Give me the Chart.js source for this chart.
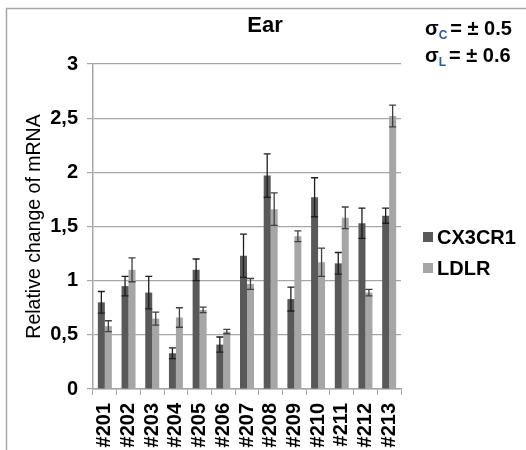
<!DOCTYPE html>
<html lang="en">
<head>
    <meta charset="UTF-8">
    <title>Ear - Relative change of mRNA</title>
    <script src="https://cdn.jsdelivr.net/npm/chart.js"></script>
    <style>
        html, body {
            margin: 0;
            padding: 0;
            background-color: white;
        }
        .chart-container {
            position: relative;
            width: 526px;
            height: 450px;
        }
    </style>
</head>
<body>
    <div class="chart-container">
        <canvas id="earChart"></canvas>
    </div>

    <script>
        // Data
        const samples = ['#201', '#202', '#203', '#204', '#205', '#206', '#207', '#208', '#209', '#210', '#211', '#212', '#213'];

        const cx3cr1 = [0.80, 0.95, 0.89, 0.33, 1.10, 0.41, 1.23, 1.97, 0.83, 1.77, 1.16, 1.53, 1.60];
        const cx3cr1Err = [0.10, 0.09, 0.15, 0.05, 0.10, 0.07, 0.20, 0.20, 0.11, 0.18, 0.10, 0.14, 0.07];

        const ldlr = [0.58, 1.10, 0.65, 0.66, 0.73, 0.53, 0.97, 1.66, 1.41, 1.17, 1.58, 0.89, 2.52];
        const ldlrErr = [0.05, 0.11, 0.06, 0.09, 0.025, 0.02, 0.05, 0.15, 0.05, 0.13, 0.10, 0.03, 0.10];

        const yTickLabels = ['0', '0,5', '1', '1,5', '2', '2,5', '3'];

        const FONT = '"Liberation Sans", Arial, sans-serif';

        // error bars drawn from the err arrays through the y scale
        const errorBars = {
            id: 'errorBars',
            afterDatasetsDraw(chart) {
                const ctx = chart.ctx;
                const y = chart.scales.y;
                const errs = [cx3cr1Err, ldlrErr];
                const colors = ['#1e1e1e', '#404040'];
                chart.data.datasets.forEach((ds, di) => {
                    const meta = chart.getDatasetMeta(di);
                    meta.data.forEach((bar, i) => {
                        const v = ds.data[i];
                        const e = errs[di][i];
                        const top = y.getPixelForValue(v + e);
                        const bottom = y.getPixelForValue(v - e);
                        const half = bar.width / 2;
                        ctx.save();
                        ctx.strokeStyle = colors[di];
                        ctx.lineWidth = 1.3;
                        ctx.beginPath();
                        ctx.moveTo(bar.x, top);
                        ctx.lineTo(bar.x, bottom);
                        ctx.moveTo(bar.x - half, top);
                        ctx.lineTo(bar.x + half, top);
                        ctx.moveTo(bar.x - half, bottom);
                        ctx.lineTo(bar.x + half, bottom);
                        ctx.stroke();
                        ctx.restore();
                    });
                });
            }
        };

        // frame, title, sigma notes and legend
        const decorations = {
            id: 'decorations',
            beforeDraw(chart) {
                const ctx = chart.ctx;
                ctx.save();
                ctx.strokeStyle = '#a6a6a6';
                ctx.lineWidth = 1.5;
                ctx.beginPath();
                ctx.moveTo(6.5, 450);
                ctx.lineTo(6.5, 8.5);
                ctx.lineTo(526, 8.5);
                ctx.stroke();
                ctx.restore();
            },
            afterDraw(chart) {
                const ctx = chart.ctx;
                ctx.save();
                ctx.fillStyle = '#000';
                ctx.textBaseline = 'alphabetic';

                // title
                ctx.font = 'bold 22px ' + FONT;
                ctx.textAlign = 'center';
                ctx.fillText('Ear', 265, 32);

                // sigma notes
                ctx.textAlign = 'left';
                const sigmas = [['C', '= \u00b1 0.5', 35], ['L', '= \u00b1 0.6', 62]];
                sigmas.forEach(([sub, rest, base]) => {
                    let x = 425;
                    ctx.font = 'bold 20px ' + FONT;
                    ctx.fillStyle = '#000';
                    ctx.fillText('\u03c3', x, base);
                    x += ctx.measureText('\u03c3').width;
                    ctx.font = 'bold 12px ' + FONT;
                    ctx.fillStyle = '#2b5aa8';
                    ctx.fillText(sub, x, base + 4);
                    x += ctx.measureText(sub).width + 3;
                    ctx.font = 'bold 20px ' + FONT;
                    ctx.fillStyle = '#000';
                    ctx.fillText(rest, x, base);
                });

                // legend
                const items = chart.data.datasets.map(ds => [ds.label, ds.backgroundColor]);
                items.forEach(([label, color], i) => {
                    const cy = 237 + i * 31;
                    ctx.fillStyle = color;
                    ctx.fillRect(423, cy - 5, 10, 10);
                    ctx.fillStyle = '#000';
                    ctx.font = 'bold 20px ' + FONT;
                    ctx.textBaseline = 'middle';
                    ctx.fillText(label, 437, cy + 1);
                });
                ctx.restore();
            }
        };

        const ctx = document.getElementById('earChart').getContext('2d');
        const chart = new Chart(ctx, {
            type: 'bar',
            data: {
                labels: samples,
                datasets: [
                    {
                        label: 'CX3CR1',
                        data: cx3cr1,
                        backgroundColor: '#595959',
                        borderWidth: 0
                    },
                    {
                        label: 'LDLR',
                        data: ldlr,
                        backgroundColor: '#a6a6a6',
                        borderWidth: 0
                    }
                ]
            },
            options: {
                responsive: true,
                maintainAspectRatio: false,
                animation: false,
                devicePixelRatio: 1,
                categoryPercentage: 0.59,
                barPercentage: 1.0,
                layout: {
                    padding: { top: 64, right: 125, bottom: 0, left: 0 }
                },
                scales: {
                    x: {
                        afterFit(scale) { scale.height = 61; },
                        grid: {
                            display: true,
                            drawOnChartArea: false,
                            drawTicks: true,
                            tickLength: 6,
                            color: '#a6a6a6',
                            offset: true
                        },
                        border: { display: true, color: '#a6a6a6', width: 1.5 },
                        ticks: {
                            color: '#000',
                            font: { family: FONT, size: 20, weight: 'bold' },
                            maxRotation: 90,
                            minRotation: 90,
                            padding: 8,
                            autoSkip: false
                        }
                    },
                    y: {
                        min: 0,
                        max: 3,
                        afterFit(scale) { scale.width = 93; },
                        grid: {
                            color: '#a6a6a6',
                            lineWidth: 1.2,
                            drawTicks: true,
                            tickLength: 6
                        },
                        border: { display: true, color: '#a6a6a6', width: 1.5 },
                        ticks: {
                            stepSize: 0.5,
                            color: '#000',
                            padding: 9,
                            font: { family: FONT, size: 20, weight: 'bold' },
                            callback: (value, index) => yTickLabels[index]
                        },
                        title: {
                            display: true,
                            text: 'Relative change of mRNA',
                            color: '#000',
                            font: { family: FONT, size: 19.5 },
                            padding: { top: 23, bottom: 0 }
                        }
                    }
                },
                plugins: {
                    legend: { display: false },
                    title: { display: false },
                    tooltip: { enabled: false }
                }
            },
            plugins: [errorBars, decorations]
        });
    </script>
</body>
</html>
